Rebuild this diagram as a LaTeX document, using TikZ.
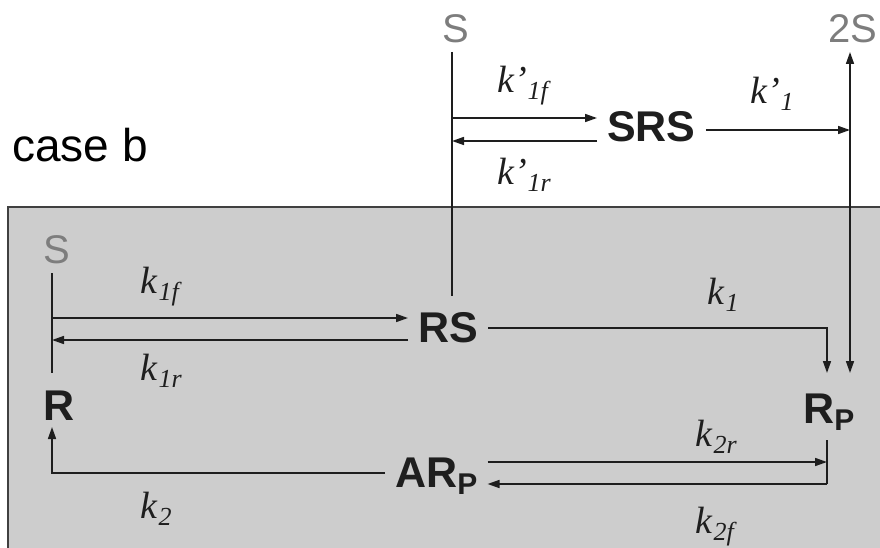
\documentclass[tikz,border=0pt]{standalone}
\usepackage{fontspec}
\setmainfont{Liberation Serif}
\setsansfont{Liberation Sans}
\usetikzlibrary{arrows.meta}
\definecolor{boxgray}{RGB}{205,205,205}
\definecolor{sgray}{RGB}{125,125,125}
\definecolor{ink}{RGB}{30,30,30}
\newcommand{\rate}[2]{\textit{#1}\kern1pt\raisebox{-7pt}{\fontsize{26}{26}\selectfont\textit{#2}}}
\newcommand{\subP}{\raisebox{-7pt}{\fontsize{30}{30}\selectfont P}}
\tikzset{
  species/.style={anchor=base west, inner xsep=10pt, inner ysep=0pt, text=ink, font=\sffamily\bfseries\fontsize{43}{43}\selectfont},
  substrate/.style={anchor=base west, inner sep=0pt, text=sgray, font=\sffamily\fontsize{40}{40}\selectfont},
  rate/.style={anchor=base west, inner sep=0pt, text=ink, font=\fontsize{38}{38}\selectfont},
  bond/.style={draw=ink, line width=1.6pt},
  flow/.style={bond, -{Triangle[length=12pt,width=8pt]}},
  flows/.style={bond, {Triangle[length=12pt,width=8pt]}-{Triangle[length=12pt,width=8pt]}}
}

\begin{document}
\begin{tikzpicture}[x=1pt,y=-1pt]
  \clip (0,0) rectangle (880,548);
  \filldraw[fill=boxgray, draw=ink!85, line width=1.5pt] (8,207) rectangle (900,570);
  \node[anchor=base west, inner sep=0pt, font=\sffamily\fontsize{46}{46}\selectfont] (case) at (12,162) {case b};

  % species
  \node[substrate] (S1) at (442,43) {S}; \node[substrate] (S2) at (828,43) {2S}; \node[substrate] (S0) at (43,263) {S};
  \node[species] (SRS) at (597,142) {SRS};
  \node[species] (RS) at (408,342) {RS};
  \node[species] (R) at (33,420) {R};
  \node[species] (RP) at (793,423) {R\subP};
  \node[species] (ARP) at (385,487) {AR\subP};

  % rate constants
  \node[rate] (k1fp) at (497,93) {\rate{k'}{1f}}; \node[rate] (k1rp) at (497,185) {\rate{k'}{1r}}; \node[rate] (k1p) at (750,104) {\rate{k'}{1}};
  \node[rate] (k1f) at (140,293) {\rate{k}{1f}}; \node[rate] (k1r) at (140,380) {\rate{k}{1r}}; \node[rate] (k1) at (707,304) {\rate{k}{1}};
  \node[rate] (k2r) at (695,446) {\rate{k}{2r}}; \node[rate] (k2f) at (695,533) {\rate{k}{2f}}; \node[rate] (k2) at (140,518) {\rate{k}{2}};

  % junctions
  \coordinate (sTop) at (452,52); \coordinate (sBot) at (452,296);
  \coordinate (a1) at (452,118); \coordinate (b1) at (452,141);
  \coordinate (c1) at (850,130); \coordinate (tTop) at (850,52); \coordinate (tBot) at (850,373);
  \coordinate (lTop) at (52,273); \coordinate (lBot) at (52,373);
  \coordinate (a2) at (52,318); \coordinate (b2) at (52,340);
  \coordinate (c2) at (827,328); \coordinate (d2) at (827,373);
  \coordinate (e2) at (52,473); \coordinate (f2) at (52,427);
  \coordinate (g2) at (827,440); \coordinate (a3) at (827,462); \coordinate (b3) at (827,484);

  % upper cycle
  \draw[bond] (sTop) -- (sBot);
  \draw[flow] (a1) -- (a1 -| SRS.west); \draw[flow] (b1 -| SRS.west) -- (b1);
  \draw[flow] (c1 -| SRS.east) -- (c1);
  \draw[flows] (tTop) -- (tBot);

  % lower cycle
  \draw[bond] (lTop) -- (lBot);
  \draw[flow] (a2) -- (a2 -| RS.west); \draw[flow] (b2 -| RS.west) -- (b2);
  \draw[flow] (c2 -| RS.east) -- (c2) -- (d2);
  \draw[flow] (e2 -| ARP.west) -- (e2) -- (f2);
  \draw[bond] (g2) -- (b3);
  \draw[flow] (a3 -| ARP.east) -- (a3); \draw[flow] (b3) -- (b3 -| ARP.east);
\end{tikzpicture}
\end{document}
